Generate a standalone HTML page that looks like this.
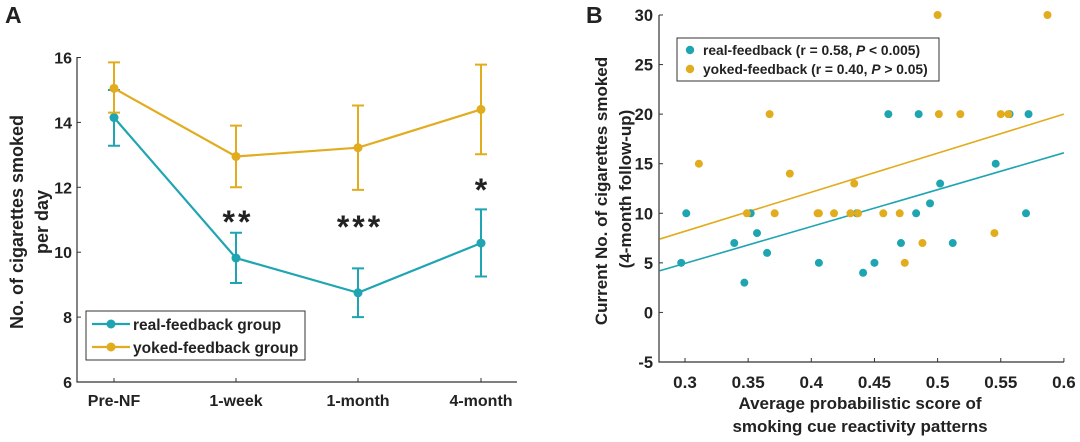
<!DOCTYPE html>
<html><head><meta charset="utf-8"><style>
body{margin:0;background:#fff;width:1080px;height:437px;overflow:hidden}
text{font-family:"Liberation Sans",Arial,sans-serif;font-weight:bold;fill:#222}
</style></head><body>
<svg id="s" width="1080" height="437" xmlns="http://www.w3.org/2000/svg"></svg>
<script>
const T="#1fa5b1",Y="#e2ac1f";
let h='';
// Panel A
const ay=v=>382-(v-6)*32.45, xs=[114,236,358,481];
h+=`<text x="5" y="23" font-size="23" fill="#000">A</text>`;
h+=`<path d="M77,57V382H517" stroke="#333" stroke-width="1.2" fill="none"/>`;
[6,8,10,12,14,16].forEach(v=>{h+=`<line x1="77" x2="81" y1="${ay(v)}" y2="${ay(v)}" stroke="#333"/><text x="72" y="${ay(v)+6}" font-size="16" text-anchor="end">${v}</text>`});
["Pre-NF","1-week","1-month","4-month"].forEach((l,i)=>{h+=`<line x1="${xs[i]}" x2="${xs[i]}" y1="382" y2="378" stroke="#333"/><text x="${xs[i]}" y="406" font-size="16" text-anchor="middle">${l}</text>`});
h+=`<text transform="translate(23,222) rotate(-90)" font-size="18" text-anchor="middle">No. of cigarettes smoked</text><text transform="translate(48,222) rotate(-90)" font-size="18" text-anchor="middle">per day</text>`;
function ser(c,m,lo,hi){let p=m.map((v,i)=>`${xs[i]},${ay(v)}`).join(' ');h+=`<polyline points="${p}" fill="none" stroke="${c}" stroke-width="2.2"/>`;
m.forEach((v,i)=>{h+=`<path d="M${xs[i]},${ay(lo[i])}V${ay(hi[i])}M${xs[i]-6},${ay(lo[i])}h12M${xs[i]-6},${ay(hi[i])}h12" stroke="${c}" stroke-width="2"/><circle cx="${xs[i]}" cy="${ay(v)}" r="4.5" fill="${c}"/>`});}
ser(T,[14.15,9.82,8.75,10.28],[13.28,9.05,8.0,9.25],[15.0,10.6,9.5,11.32]);
ser(Y,[15.05,12.95,13.22,14.4],[14.3,12.0,11.92,13.02],[15.85,13.9,14.52,15.78]);
h+=`<text x="238" y="233" font-size="32" text-anchor="middle" letter-spacing="3" fill="#000">**</text><text x="360" y="238" font-size="32" text-anchor="middle" letter-spacing="3" fill="#000">***</text><text x="481" y="201" font-size="32" text-anchor="middle" fill="#000">*</text>`;
h+=`<rect x="86" y="311" width="219" height="49" fill="#fff" stroke="#333"/>`;
h+=`<line x1="92" x2="130" y1="324" y2="324" stroke="${T}" stroke-width="2.2"/><circle cx="111" cy="324" r="4.5" fill="${T}"/><text x="133" y="330" font-size="15.5">real-feedback group</text>`;
h+=`<line x1="92" x2="130" y1="347" y2="347" stroke="${Y}" stroke-width="2.2"/><circle cx="111" cy="347" r="4.5" fill="${Y}"/><text x="133" y="353" font-size="15.5">yoked-feedback group</text>`;
// Panel B
const bx=v=>685+(v-0.3)*1263, by=v=>15+(30-v)*9.914;
h+=`<text x="586" y="23" font-size="23" fill="#000">B</text>`;
h+=`<path d="M659,15V362H1064" stroke="#333" stroke-width="1.2" fill="none"/>`;
[-5,0,5,10,15,20,25,30].forEach(v=>{h+=`<line x1="659" x2="663" y1="${by(v)}" y2="${by(v)}" stroke="#333"/><text x="653" y="${by(v)+6}" font-size="16.5" text-anchor="end">${v}</text>`});
[0.3,0.35,0.4,0.45,0.5,0.55,0.6].forEach(v=>{h+=`<line x1="${bx(v)}" x2="${bx(v)}" y1="362" y2="358" stroke="#333"/><text x="${bx(v)}" y="388" font-size="17" text-anchor="middle">${v}</text>`});
h+=`<text x="860" y="409" font-size="17" text-anchor="middle">Average probabilistic score of</text><text x="860" y="432" font-size="17" text-anchor="middle">smoking cue reactivity patterns</text>`;
h+=`<text transform="translate(607,191) rotate(-90)" font-size="17" text-anchor="middle">Current No. of cigarettes smoked</text><text transform="translate(631,189) rotate(-90)" font-size="17" text-anchor="middle">(4-month follow-up)</text>`;
h+=`<line x1="${bx(0.28)}" y1="${by(7.4)}" x2="${bx(0.6)}" y2="${by(20)}" stroke="${Y}" stroke-width="1.6"/><line x1="${bx(0.28)}" y1="${by(4.2)}" x2="${bx(0.6)}" y2="${by(16.1)}" stroke="${T}" stroke-width="1.6"/>`;
const tp=[[.297,5],[.301,10],[.339,7],[.347,3],[.352,10],[.357,8],[.365,6],[.406,5],[.436,10],[.441,4],[.45,5],[.461,20],[.471,7],[.483,10],[.485,20],[.494,11],[.502,13],[.512,7],[.546,15],[.557,20],[.570,10],[.572,20]];
const yp=[[.311,15],[.349,10],[.367,20],[.371,10],[.383,14],[.405,10],[.406,10],[.418,10],[.431,10],[.434,13],[.437,10],[.457,10],[.470,10],[.474,5],[.488,7],[.500,30],[.501,20],[.518,20],[.545,8],[.550,20],[.556,20],[.587,30]];
tp.forEach(p=>h+=`<circle cx="${bx(p[0])}" cy="${by(p[1])}" r="4" fill="${T}"/>`);
yp.forEach(p=>h+=`<circle cx="${bx(p[0])}" cy="${by(p[1])}" r="4" fill="${Y}"/>`);
h+=`<rect x="677" y="38" width="262" height="43" fill="#fff" stroke="#333"/>`;
h+=`<circle cx="690" cy="50" r="4.2" fill="${T}"/><text x="703" y="55" font-size="13.8">real-feedback (r = 0.58, <tspan font-style="italic">P</tspan> &lt; 0.005)</text>`;
h+=`<circle cx="690" cy="69" r="4.2" fill="${Y}"/><text x="703" y="74" font-size="13.8">yoked-feedback (r = 0.40, <tspan font-style="italic">P</tspan> &gt; 0.05)</text>`;
document.getElementById('s').innerHTML=h;
</script>
</body></html>
